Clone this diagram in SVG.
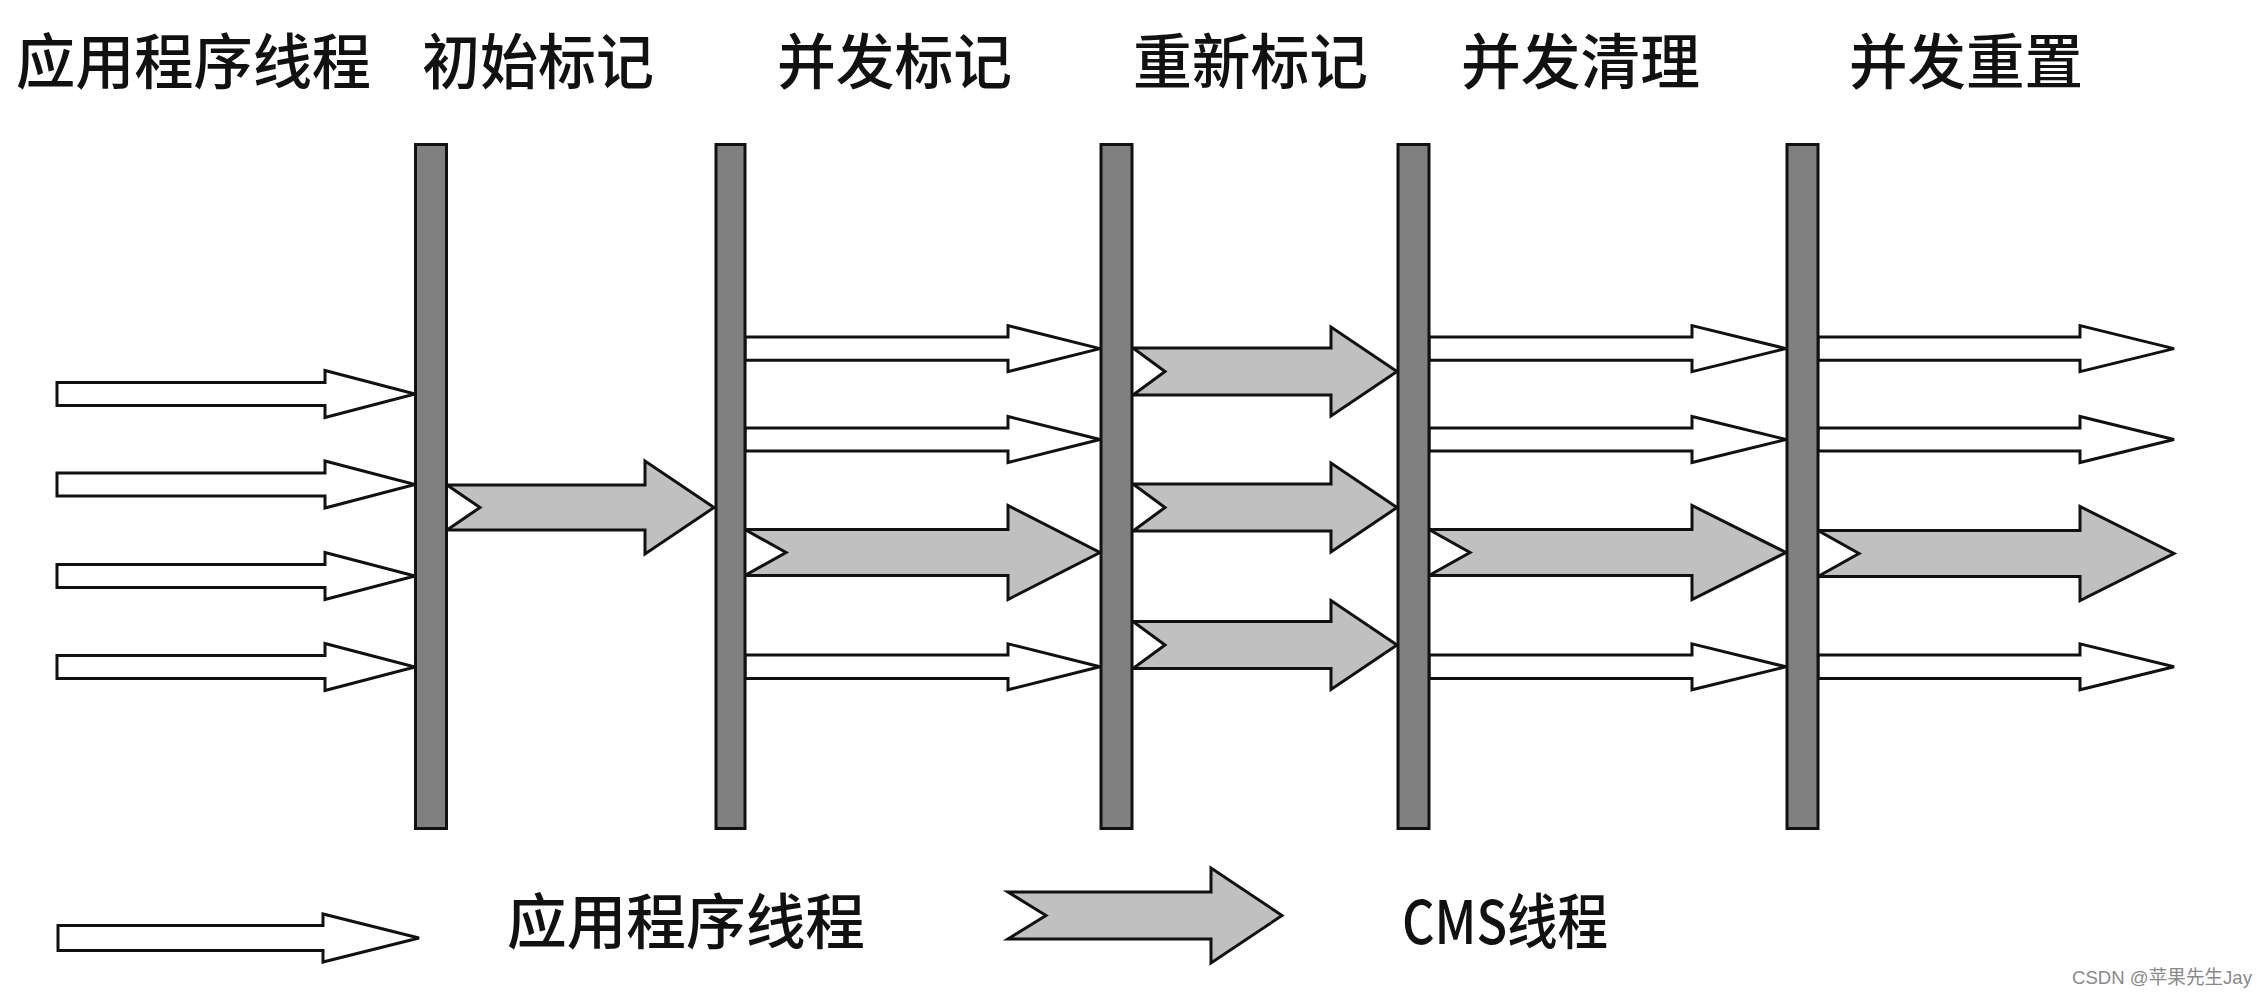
<svg xmlns="http://www.w3.org/2000/svg" width="2268" height="998" viewBox="0 0 2268 998">
<style>
.lbl{font-family:"Noto Sans CJK SC","Noto Sans",sans-serif;font-size:60px;fill:#111;font-weight:500}
.bar{fill:#808080;stroke:#111;stroke-width:3}
.app{fill:#fff;stroke:#111;stroke-width:3;stroke-linejoin:miter}
.cms{fill:#c0c0c0;stroke:#111;stroke-width:3;stroke-linejoin:miter}
.wm{font-family:"Liberation Sans","Noto Sans CJK SC",sans-serif;font-size:19px;fill:#8a8a8a}
</style>
<rect width="2268" height="998" fill="#fff"/>
<g id="title-app"><text class="lbl" x="16" y="84" textLength="355" lengthAdjust="spacingAndGlyphs">应用程序线程</text></g>
<g id="connectors">
<!-- section 1: app threads -->
<polygon class="app" points="57,382.5 325,382.5 325,370.5 415,394 325,417.5 325,405.5 57,405.5"/>
<polygon class="app" points="57,473 325,473 325,461 415,484.5 325,508 325,496 57,496"/>
<polygon class="app" points="57,564.5 325,564.5 325,552.5 415,576 325,599.5 325,587.5 57,587.5"/>
<polygon class="app" points="57,655.5 325,655.5 325,643.5 415,667 325,690.5 325,678.5 57,678.5"/>
<!-- section 1: CMS -->
<polygon class="cms" points="447,485 645,485 645,461 714,507.5 645,554 645,530 447,530 480,507.5"/>
<!-- section 2 -->
<polygon class="app" points="745,337 1008,337 1008,325.6 1100,348.6 1008,371.6 1008,360.2 745,360.2"/>
<polygon class="app" points="745,428 1008,428 1008,416.5 1100,439.5 1008,462.5 1008,451 745,451"/>
<polygon class="app" points="745,655 1008,655 1008,643.8 1100,666.8 1008,689.8 1008,678.6 745,678.6"/>
<polygon class="cms" points="745,529.5 1008,529.5 1008,505.5 1100,552.5 1008,599.5 1008,575.5 745,575.5 786,552.5"/>
<!-- section 3 -->
<polygon class="cms" points="1133,348 1331,348 1331,327 1397,371.5 1331,416 1331,395 1133,395 1165,371.5"/>
<polygon class="cms" points="1133,484 1331,484 1331,463 1397,507.5 1331,552 1331,531 1133,531 1165,507.5"/>
<polygon class="cms" points="1133,621.5 1331,621.5 1331,600.5 1397,645 1331,689.5 1331,668.5 1133,668.5 1165,645"/>
<!-- section 4 -->
<polygon class="app" points="1429,337 1692,337 1692,325.6 1786,348.6 1692,371.6 1692,360.2 1429,360.2"/>
<polygon class="app" points="1429,428 1692,428 1692,416.5 1786,439.5 1692,462.5 1692,451 1429,451"/>
<polygon class="app" points="1429,655 1692,655 1692,643.8 1786,666.8 1692,689.8 1692,678.6 1429,678.6"/>
<polygon class="cms" points="1429,529.5 1692,529.5 1692,505.5 1786,552.5 1692,599.5 1692,575.5 1429,575.5 1470,552.5"/>
<!-- section 5 -->
<polygon class="app" points="1818,337 2080,337 2080,325.6 2174,348.6 2080,371.6 2080,360.2 1818,360.2"/>
<polygon class="app" points="1818,428 2080,428 2080,416.5 2174,439.5 2080,462.5 2080,451 1818,451"/>
<polygon class="app" points="1818,655 2080,655 2080,643.8 2174,666.8 2080,689.8 2080,678.6 1818,678.6"/>
<polygon class="cms" points="1818,530.5 2080,530.5 2080,506.5 2174,553.5 2080,600.5 2080,576.5 1818,576.5 1859,553.5"/>
</g>
<g id="phase-initial-mark">
<rect class="bar" x="415.5" y="144.5" width="31" height="684"/>
<text class="lbl" x="422" y="84" textLength="232" lengthAdjust="spacingAndGlyphs">初始标记</text>
</g>
<g id="phase-concurrent-mark">
<rect class="bar" x="716" y="144.5" width="29" height="684"/>
<text class="lbl" x="777" y="84" textLength="235" lengthAdjust="spacingAndGlyphs">并发标记</text>
</g>
<g id="phase-remark">
<rect class="bar" x="1101" y="144.5" width="31" height="684"/>
<text class="lbl" x="1133" y="84" textLength="235" lengthAdjust="spacingAndGlyphs">重新标记</text>
</g>
<g id="phase-concurrent-sweep">
<rect class="bar" x="1398" y="144.5" width="31" height="684"/>
<text class="lbl" x="1461" y="84" textLength="239" lengthAdjust="spacingAndGlyphs">并发清理</text>
</g>
<g id="phase-concurrent-reset">
<rect class="bar" x="1787" y="144.5" width="31" height="684"/>
<text class="lbl" x="1849" y="84" textLength="234" lengthAdjust="spacingAndGlyphs">并发重置</text>
</g>
<g id="legend-app">
<polygon class="app" points="58,925.5 323,925.5 323,914 419,938 323,962 323,950.5 58,950.5"/>
<text class="lbl" x="507" y="944" textLength="358" lengthAdjust="spacingAndGlyphs">应用程序线程</text>
</g>
<g id="legend-cms">
<polygon class="cms" points="1008,892 1211,892 1211,868 1282,915.5 1211,963 1211,939 1008,939 1046,915.5"/>
<text class="lbl" x="1402" y="944" textLength="206" lengthAdjust="spacingAndGlyphs">CMS线程</text>
</g>
<g id="watermark"><text class="wm" x="2072" y="984" textLength="180" lengthAdjust="spacingAndGlyphs">CSDN @苹果先生Jay</text></g>
</svg>
